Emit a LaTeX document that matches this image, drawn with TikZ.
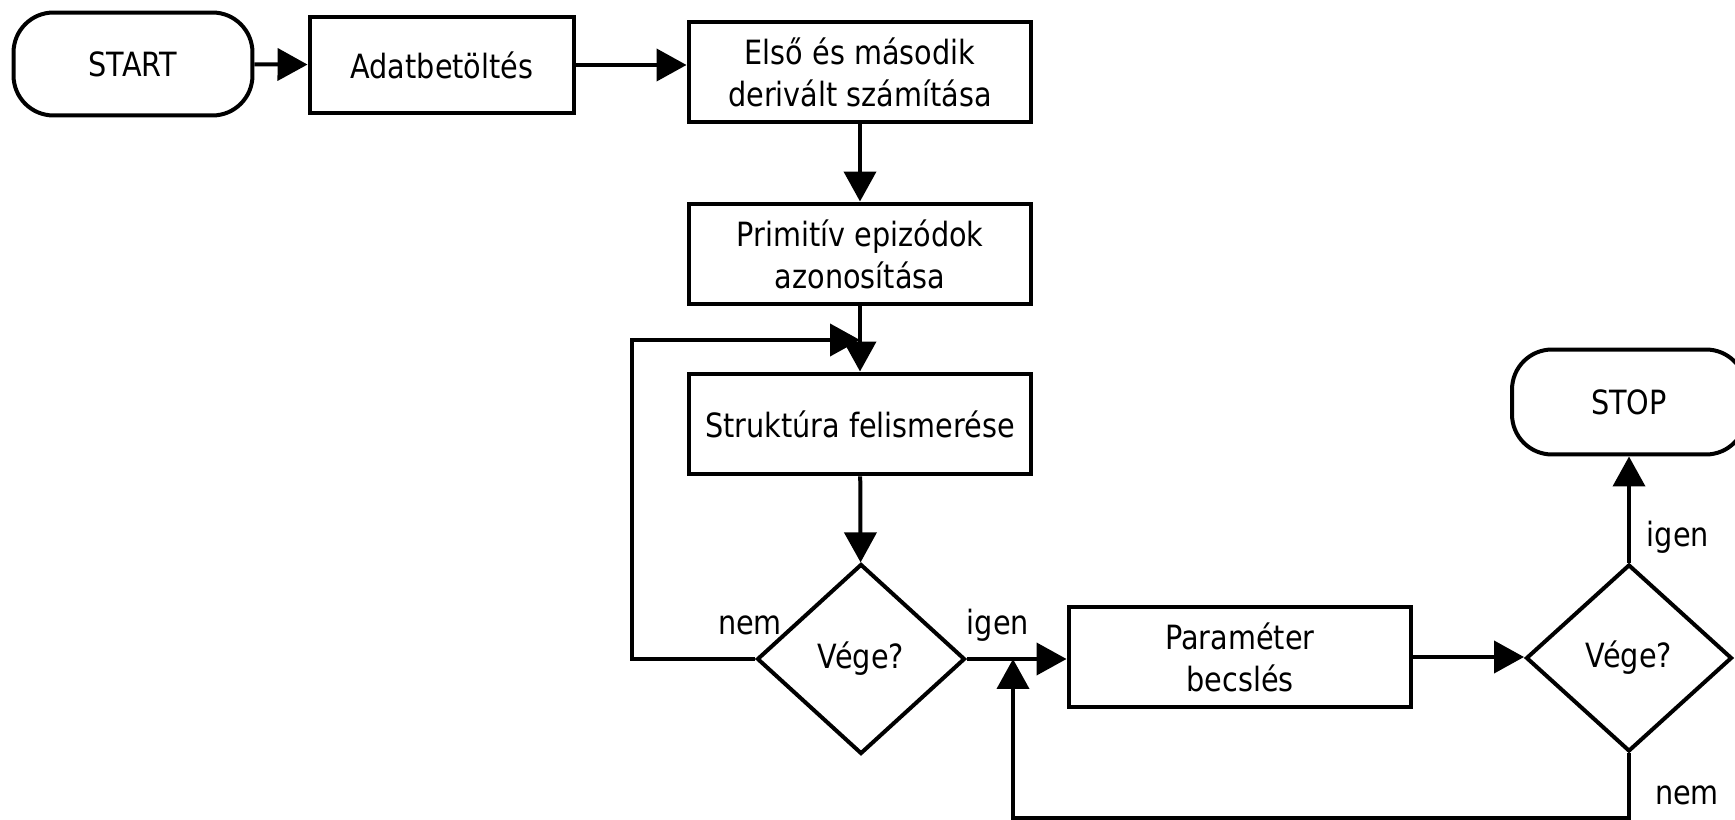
\documentclass[tikz,border=0pt]{standalone}
\usepackage{fontspec}
\setmainfont{DejaVu Sans}[FakeStretch=0.86]
\usepackage{tikz}
\usetikzlibrary{arrows.meta, positioning, shapes.geometric}

\tikzset{
  term/.style={draw, line width=0.08cm, rounded corners=0.8cm, minimum width=4.78cm, minimum height=2.06cm, align=center},
  proc/.style={draw, line width=0.08cm, minimum width=6.86cm, minimum height=2.02cm, align=center},
  dec/.style={draw, diamond, line width=0.08cm, inner sep=0pt, minimum width=4.16cm, minimum height=3.8cm},
  lbl/.style={inner sep=0pt},
  arr/.style={line width=0.08cm, -{Triangle[length=0.6cm, width=0.64cm]}}
}

\begin{document}
\begin{tikzpicture}[x=0.02cm, y=-0.02cm, font=\fontsize{19}{24}\selectfont]
                \useasboundingbox (0,0) rectangle (1735,820);

                % Start and loading
                \node[term] (start) at (133,64) {START};
                \node[proc, minimum width=5.3cm, minimum height=1.94cm] (load) at (442,65) {\raisebox{-0.12cm}{Adatbetöltés}};

                % Preprocessing column
                \node[proc] (deriv) at (860,72) {Első és második\\derivált számítása};
                \node[proc] (prim) at (860,254) {Primitív epizódok\\ azonosítása};
                \node[proc] (struct) at (860,424) {Struktúra felismerése};
                \node[dec] (end1) at (861,659) {Vége?};

                % Estimation
                \node[proc] (param) at (1240,657) {Paraméter\\becslés};
                \node[dec, minimum width=4.12cm, minimum height=3.74cm] (end2) at (1629,658) {Vége?};
                \node[term, minimum width=4.68cm, minimum height=2.1cm] (stop) at (1629,402) {STOP};

                % Branch labels
                \node[lbl] (nem1) at (750,625) {nem};
                \node[lbl] (igen1) at (998,625) {igen};
                \node[lbl] (igen2) at (1678,537) {igen};
                \node[lbl] (nem2) at (1687,795) {nem};

                % Helper points of the loops
                \coordinate (loopL) at (632,340);
                \coordinate (loopT) at (860,340);
                \coordinate (backB) at (1013,818);
                \coordinate (backT) at (1013,659);

                % Connectors
                \draw[arr] (start) -- (load);
                \draw[arr] (load.east) -- (load.east -| deriv.west);
                \draw[arr] (deriv) -- (prim);
                \draw[arr] (prim) -- (struct);
                \draw[arr] (struct) -- (end1);
                \draw[arr] (end1.west) -| (loopL) -- (loopT);
                \draw[arr] (end1.east) -- (end1.east -| param.west);
                \draw[arr] (param.east) -- (param.east -| end2.west);
                \draw[arr] (end2.north) -- (stop.south);
                \draw[arr] (end2.south) |- (backB) -- (backT);
            \end{tikzpicture}
\end{document}
